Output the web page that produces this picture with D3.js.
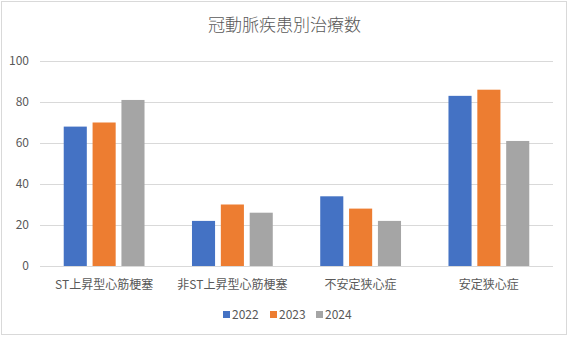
<!DOCTYPE html>
<html>
<head>
<meta charset="utf-8">
<script src="https://cdn.jsdelivr.net/npm/d3@7"></script>
<style>
  body { margin: 0; background: #fff; }
  svg text { font-family: "Noto Sans CJK JP", "Liberation Sans", sans-serif; fill: #595959; }
</style>
</head>
<body>
<div id="chart"></div>
<script>
// Data
const categories = ["ST上昇型心筋梗塞", "非ST上昇型心筋梗塞", "不安定狭心症", "安定狭心症"];
const years = ["2022", "2023", "2024"];
const values2022 = [68, 22, 34, 83];
const values2023 = [70, 30, 28, 86];
const values2024 = [81, 26, 22, 61];
const yTicks = [0, 20, 40, 60, 80, 100];
const colors = ["#4472c4", "#ed7d31", "#a5a5a5"];

const series = [values2022, values2023, values2024];

const width = 569, height = 337;
const margin = { top: 61, right: 16, bottom: 71, left: 40 };

const svg = d3.select("#chart")
    .append("svg")
    .attr("width", width)
    .attr("height", height);

// Outer border of chart area
svg.append("rect")
    .attr("x", 1.5).attr("y", 1.5)
    .attr("width", width - 4).attr("height", height - 4)
    .attr("fill", "#fff")
    .attr("stroke", "#d9d9d9");

const x = d3.scaleBand()
    .domain(categories)
    .range([margin.left, width - margin.right])
    .paddingInner(0.37)
    .paddingOuter(0.185);

const xInner = d3.scaleBand()
    .domain(years)
    .range([0, x.bandwidth()])
    .paddingInner(0.2)
    .paddingOuter(0);

const y = d3.scaleLinear()
    .domain([0, 100])
    .range([height - margin.bottom, margin.top]);

// Gridlines
svg.append("g")
    .selectAll("line")
    .data(yTicks)
    .enter()
    .append("line")
    .attr("x1", margin.left)
    .attr("x2", width - margin.right)
    .attr("y1", d => Math.round(y(d)) + 0.5)
    .attr("y2", d => Math.round(y(d)) + 0.5)
    .attr("stroke", "#d9d9d9")
    .attr("stroke-width", 1);

// Y tick labels
svg.append("g")
    .selectAll("text")
    .data(yTicks)
    .enter()
    .append("text")
    .attr("x", margin.left - 11)
    .attr("y", d => y(d))
    .attr("dy", "0.35em")
    .attr("text-anchor", "end")
    .style("font-size", "12px")
    .text(d => d);

// Bars
const groups = svg.append("g")
    .selectAll("g")
    .data(categories)
    .enter()
    .append("g")
    .attr("transform", d => `translate(${x(d)},0)`);

groups.selectAll("rect")
    .data((d, i) => years.map((yr, j) => ({ year: yr, value: series[j][i], idx: j })))
    .enter()
    .append("rect")
    .attr("x", d => xInner(d.year))
    .attr("width", xInner.bandwidth())
    .attr("y", d => y(d.value))
    .attr("height", d => y(0) - y(d.value))
    .attr("fill", d => colors[d.idx]);

// X labels
svg.append("g")
    .selectAll("text")
    .data(categories)
    .enter()
    .append("text")
    .attr("x", d => x(d) + x.bandwidth() / 2)
    .attr("y", height - margin.bottom + 19)
    .attr("dy", "0.35em")
    .attr("text-anchor", "middle")
    .style("font-size", "12px")
    .text(d => d);

// Title
svg.append("text")
    .attr("x", width / 2)
    .attr("y", 31)
    .attr("text-anchor", "middle")
    .style("font-size", "17px")
    .style("font-weight", 300)
    .text("冠動脈疾患別治療数");

// Legend
const legendX = [223, 270, 316];
const legend = svg.append("g")
    .selectAll("g")
    .data(years)
    .enter()
    .append("g")
    .attr("transform", (d, i) => `translate(${legendX[i]},315)`);

legend.append("rect")
    .attr("x", 0).attr("y", -4)
    .attr("width", 7).attr("height", 7)
    .attr("fill", (d, i) => colors[i]);

legend.append("text")
    .attr("x", 9)
    .attr("y", 0)
    .attr("dy", "0.35em")
    .style("font-size", "12px")
    .text(d => d);
</script>
</body>
</html>
